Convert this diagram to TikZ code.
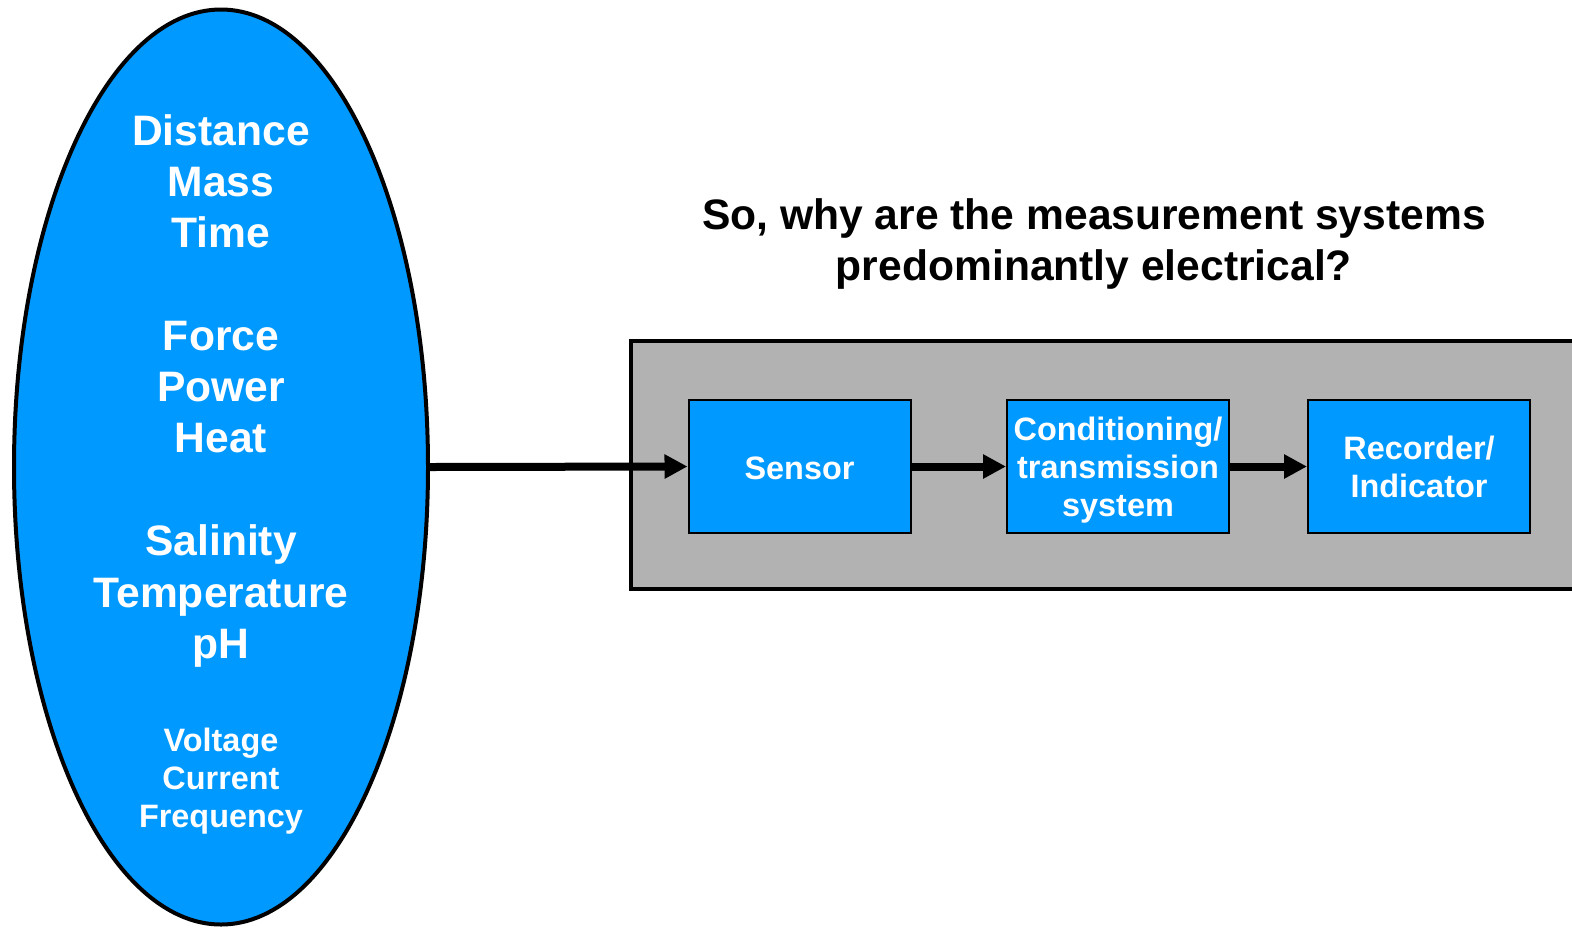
\documentclass[tikz,border=0pt]{standalone}
\usepackage{fontspec}
\setmainfont{Liberation Sans}
\usepackage{xcolor}
\usetikzlibrary{arrows.meta,shapes.geometric,positioning}

\definecolor{qblue}{RGB}{0,153,255}
\definecolor{qgray}{RGB}{178,178,178}

\tikzset{
    quantity/.style={ellipse,draw=black,line width=2pt,fill=qblue,inner sep=0pt,
        minimum width=207pt,minimum height=457.5pt},
    qtext/.style={text=white,align=center,font=\bfseries\fontsize{21.3}{25.6}\selectfont},
    qsmall/.style={text=white,align=center,font=\bfseries\fontsize{16.2}{19}\selectfont},
    block/.style={draw=black,line width=1pt,fill=qblue,text=white,align=center,
        minimum width=111pt,minimum height=66.5pt,inner sep=0pt,
        font=\bfseries\fontsize{16.2}{19}\selectfont},
    flow/.style={line width=4pt,-{Triangle[length=11.5pt,width=11.5pt]}}
}

\begin{document}
\begin{tikzpicture}[x=0.5pt,y=-0.5pt]
                \clip (0,0) rectangle (1572,927);
                \fill[white] (0,0) rectangle (1572,927);

                % measurands
                \node[quantity] (qty) at (221,467) {};
                \node[qtext] (grpA) at (221,181) {Distance\\Mass\\Time};
                \node[qtext] (grpB) at (221,387) {Force\\Power\\Heat};
                \node[qtext] (grpC) at (221,596) {Salinity\\Temperature\\pH};
                \node[qsmall] (grpD) at (221,781) {Voltage\\Current\\Frequency};

                % question
                \node[align=center,font=\bfseries\fontsize{21.3}{25.6}\selectfont] (title) at (1094,244)
                    {So, why are the measurement systems\\predominantly electrical?};

                % measurement system
                \draw[fill=qgray,line width=2pt] (631,341) rectangle (1620,589);
                \node[block] (sensor) at (799.5,466.5) {\rule{0pt}{13.5pt}Sensor};
                \node[block] (cond) at (1118,466.5) {\rule{0pt}{15.8pt}Conditioning/\\transmission\\system};
                \node[block] (rec) at (1419,466.5) {Recorder/\\Indicator};

                \draw[flow] (qty.east) -- (sensor.west);
                \draw[flow] (sensor) -- (cond);
                \draw[flow] (cond) -- (rec);

            \end{tikzpicture}
\end{document}
